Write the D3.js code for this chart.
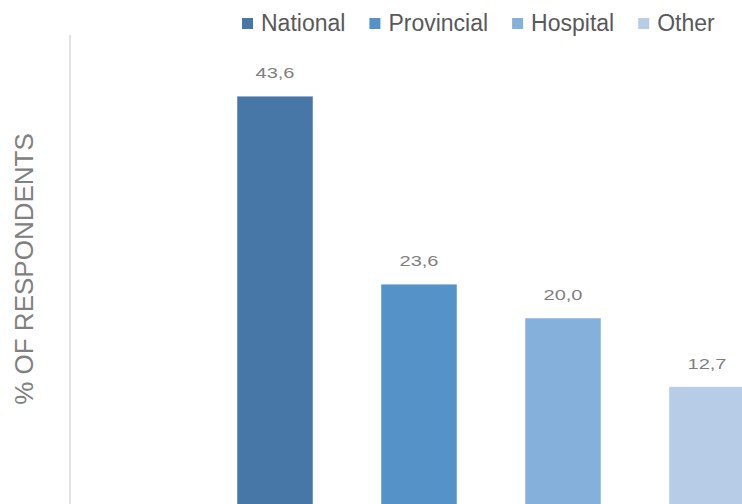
<!DOCTYPE html>
<html>
<head>
<meta charset="utf-8">
<script src="https://cdn.jsdelivr.net/npm/d3@7"></script>
<style>
  body { margin: 0; background: #fff; }
  text { font-family: "Liberation Sans", Arial, sans-serif; }
</style>
</head>
<body>
<div id="chart"></div>
<script>
// données
const categories = ['National', 'Provincial', 'Hospital', 'Other'];
const values = [43.6, 23.6, 20.0, 12.7];
const colors = ['#4677a6', '#5592c8', '#85b0dc', '#b7cce6'];

const WIDTH = 742;
const HEIGHT = 504;

const svg = d3.select('#chart').append('svg').attr('width', WIDTH).attr('height', HEIGHT);

// échelles
const x = d3.scaleBand()
    .domain(categories)
    .range([203, 779])
    .paddingInner(0.472)
    .paddingOuter(0.236);

const y = d3.scaleLinear()
    .domain([0, 45])
    .range([506, 83]);

const color = d3.scaleOrdinal().domain(categories).range(colors);

const data = categories.map((c, i) => ({ cat: c, val: values[i] }));

// axe vertical (juste la ligne)
svg.append('line')
    .attr('x1', 70).attr('x2', 70)
    .attr('y1', 35).attr('y2', HEIGHT)
    .attr('stroke', '#d9d9d9')
    .attr('stroke-width', 1.5);

// titre de l'axe
svg.append('text')
    .attr('transform', 'translate(33, 269) rotate(-90)')
    .attr('text-anchor', 'middle')
    .attr('fill', '#808080')
    .style('font-size', '26px')
    .text('% OF RESPONDENTS');

// les barres
svg.selectAll('rect.bar')
    .data(data)
    .enter()
    .append('rect')
    .attr('class', 'bar')
    .attr('x', d => x(d.cat))
    .attr('y', d => y(d.val))
    .attr('width', x.bandwidth())
    .attr('height', d => y(0) - y(d.val))
    .attr('fill', d => color(d.cat))
    .attr('stroke', '#ffffff')
    .attr('stroke-opacity', 0.5)
    .attr('stroke-width', 1);

// étiquettes des valeurs
svg.selectAll('text.val')
    .data(data)
    .enter()
    .append('text')
    .attr('class', 'val')
    .attr('x', d => x(d.cat) + x.bandwidth() / 2)
    .attr('y', d => y(d.val) - 18)
    .attr('text-anchor', 'middle')
    .attr('fill', '#7f7f7f')
    .attr('textLength', 39)
    .attr('lengthAdjust', 'spacingAndGlyphs')
    .style('font-size', '15px')
    .text(d => d.val.toFixed(1).replace('.', ','));

// la légende
const legend = svg.append('g');
let lx = 242;
categories.forEach(c => {
    legend.append('rect')
        .attr('x', lx).attr('y', 18)
        .attr('width', 11).attr('height', 11)
        .attr('fill', color(c));
    const t = legend.append('text')
        .attr('x', lx + 19).attr('y', 31)
        .attr('fill', '#595959')
        .style('font-size', '23px')
        .text(c);
    lx += 19 + t.node().getComputedTextLength() + 24;
});
</script>
</body>
</html>
